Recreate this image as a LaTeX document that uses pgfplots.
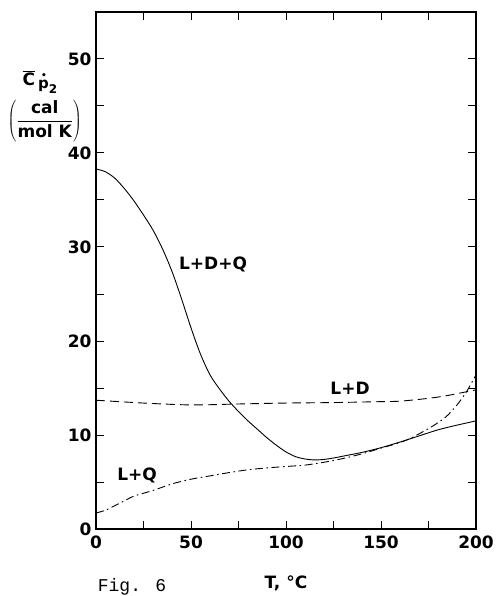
\documentclass[border=0pt]{standalone}
\usepackage{fontspec}
\setmainfont{DejaVu Sans}
\newfontfamily\monofont{Liberation Mono}
\usepackage{pgfplots}
\pgfplotsset{compat=1.18}
\newcommand{\fs}{\bfseries\fontsize{17}{20}\selectfont}
\begin{document}
\begin{tikzpicture}
\begin{axis}[
  scale only axis,
  width=380pt, height=517pt,
  xmin=0, xmax=200, ymin=0, ymax=55,
  xtick={0,50,100,150,200},
  minor xtick={25,75,125,175},
  ytick={0,10,20,30,40,50},
  minor ytick={5,15,25,35,45},
  major tick length=8pt, minor tick length=8pt,
  tick align=inside,
  tick style={line width=1pt, black},
  axis line style={line width=1.1pt},
  /pgf/number format/assume math mode=true,
  ticklabel style={font=\fs},
  xticklabel style={yshift=-3pt},
  yticklabel style={xshift=-1pt},
  clip=false,
]
\addplot[line width=0.9pt, smooth, tension=0.5] coordinates {
(0,38.3) (5,38.0) (10,37.3) (15,36.2) (20,34.9) (25,33.4) (30,31.8) (35,29.8)
(40,27.4) (45,24.5) (50,21.4) (55,18.6) (60,16.4) (65,14.9) (70,13.6) (75,12.5)
(80,11.5) (85,10.6) (90,9.7) (95,8.9) (100,8.2) (105,7.7) (110,7.45) (115,7.35)
(120,7.4) (125,7.55) (130,7.75) (140,8.15) (150,8.65) (160,9.25) (170,9.9)
(180,10.55) (190,11.05) (200,11.5)};
\addplot[line width=0.9pt, smooth, dash pattern=on 9pt off 5pt] coordinates {
(0,13.7) (25,13.4) (50,13.2) (75,13.3) (100,13.4) (125,13.45) (150,13.55)
(160,13.6) (175,13.9) (185,14.2) (195,14.6) (200,14.8)};
\addplot[line width=0.9pt, smooth, dash pattern=on 8pt off 3.5pt on 1.6pt off 3.5pt] coordinates {
(0,1.7) (5,2.0) (10,2.5) (15,3.0) (20,3.5) (30,4.1) (40,4.8) (50,5.3) (60,5.65)
(70,6.0) (80,6.3) (90,6.5) (100,6.65) (110,6.8) (120,7.1) (130,7.5) (140,8.0)
(150,8.6) (160,9.2) (166,9.7) (176,10.8) (184,11.9) (190,13.2) (195,14.6) (200,16.4)};
\node[font=\fs] at (axis cs:61.6,28.1) {L+D+Q};
\node[font=\fs] at (axis cs:133.7,15.0) {L+D};
\node[font=\fs] at (axis cs:21.6,5.7) {L+Q};
\node[font=\fs] at (axis cs:100,-5.75) {T, °C};
\node[font=\monofont\fontsize{18}{20}\selectfont, anchor=base, inner sep=0pt] at (axis cs:19,-6.6) {Fig. 6};
\node[font=\fs, anchor=base, inner sep=0pt] at (axis cs:-29.5,47.2) {$\overline{\hbox{C}}$\kern3pt\raisebox{-3pt}{\makebox[0pt][l]{\raisebox{10pt}{\kern3pt\fontsize{9}{9}\selectfont\textbullet}}\fontsize{15}{15}\selectfont p\raisebox{-5pt}{\fontsize{12}{12}\selectfont 2}}};
\node[font=\fs, inner sep=0pt] at (axis cs:-27,43.4) {$\displaystyle\left(\frac{\hbox{cal}}{\hbox{mol K}}\right)$};
\end{axis}
\path (current axis.south west) ++(-96pt,-67pt) coordinate (bl);
\path (current axis.north east) ++(18pt,12pt) coordinate (tr);
\path (bl) rectangle (tr);
\end{tikzpicture}
\end{document}
